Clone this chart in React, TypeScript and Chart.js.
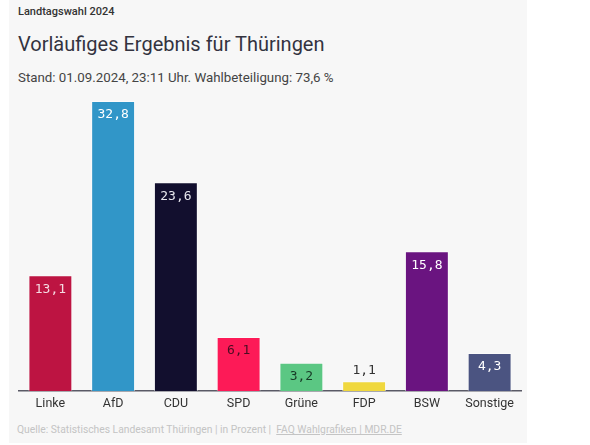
import React, { useEffect, useRef } from "react";
import { Chart, registerables } from "chart.js";

Chart.register(...registerables);

const categories = ["Linke", "AfD", "CDU", "SPD", "Grüne", "FDP", "BSW", "Sonstige"];
const values = [13.1, 32.8, 23.6, 6.1, 3.2, 1.1, 15.8, 4.3];
const barColors = ["#bd1442", "#3196c8", "#120f2e", "#fd1a57", "#5bc783", "#f0d83e", "#6a1480", "#4b5481"];
const labelColors = ["#f4dbe2", "#ffffff", "#e8e8ee", "#4a0d22", "#173a26", "#333333", "#ffffff", "#ffffff"];
const labelInside = [true, true, true, true, true, false, true, true];

const valueLabels = {
  id: "valueLabels",
  afterDatasetsDraw(chart: any) {
    const ctx = chart.ctx;
    const meta = chart.getDatasetMeta(0);
    ctx.save();
    ctx.font = "13px 'DejaVu Sans Mono', monospace";
    ctx.textAlign = "center";
    ctx.textBaseline = "middle";
    meta.data.forEach((bar: any, i: number) => {
      const txt = values[i].toFixed(1).replace(".", ",");
      ctx.fillStyle = labelColors[i];
      const y = labelInside[i] ? bar.y + 14 : bar.y - 11;
      ctx.fillText(txt, bar.x, y);
    });
    ctx.restore();
  },
};

export default function App() {
  const ref = useRef<HTMLCanvasElement>(null);
  useEffect(() => {
    document.body.style.margin = "0";
    const chart = new Chart(ref.current!, {
      type: "bar",
      data: {
        labels: categories,
        datasets: [
          {
            data: values,
            backgroundColor: barColors,
            borderColor: "rgba(255,255,255,0.55)",
            borderWidth: 1,
            categoryPercentage: 1,
            barPercentage: 0.7,
          },
        ],
      },
      options: {
        animation: false,
        responsive: false,
        maintainAspectRatio: false,
        layout: { padding: { left: 10, right: 6, top: 11, bottom: 4 } },
        plugins: { legend: { display: false }, tooltip: { enabled: false } },
        scales: {
          y: { display: false, min: 0, max: 32.8 },
          x: {
            grid: { display: false, drawTicks: false },
            border: { display: true, color: "#5a5a66", width: 1.5 },
            ticks: {
              padding: 5,
              color: "#333",
              font: { family: "Roboto, sans-serif", size: 12.5 },
            },
          },
        },
      },
      plugins: [valueLabels],
    });
    return () => chart.destroy();
  }, []);

  const txt: React.CSSProperties = {
    position: "absolute",
    left: 9,
    whiteSpace: "nowrap",
    fontFamily: "Roboto, sans-serif",
  };

  return (
    <div
      style={{
        position: "absolute",
        left: 9,
        top: 0,
        width: 518,
        height: 443,
        background: "#f7f7f7",
      }}
    >
      <div style={{ ...txt, top: 4, fontSize: 11, lineHeight: "16px", color: "#333", fontWeight: 500 }}>
        Landtagswahl 2024
      </div>
      <div style={{ ...txt, top: 30, fontSize: 20, lineHeight: "28px", color: "#33333f" }}>
        Vorläufiges Ergebnis für Thüringen
      </div>
      <div style={{ ...txt, top: 69, fontSize: 13.3, lineHeight: "18px", color: "#444" }}>
        Stand: 01.09.2024, 23:11 Uhr. Wahlbeteiligung: 73,6 %
      </div>
      <canvas
        ref={ref}
        width={518}
        height={330}
        style={{ position: "absolute", left: 0, top: 90, width: 518, height: 330 }}
      />
      <div style={{ ...txt, left: 8, top: 422, fontSize: 10.3, lineHeight: "16px", color: "#c4c4c4" }}>
        Quelle: Statistisches Landesamt Thüringen | in Prozent |&nbsp;{" "}
        <span style={{ textDecoration: "underline" }}>FAQ Wahlgrafiken | MDR.DE</span>
      </div>
    </div>
  );
}
